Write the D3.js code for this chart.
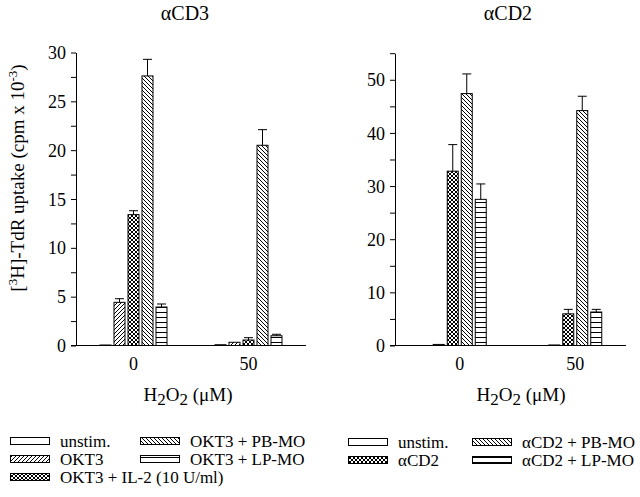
<!DOCTYPE html>
<html>
<head>
<meta charset="utf-8">
<script src="https://cdn.jsdelivr.net/npm/d3@7"></script>
<style>
  html, body { margin: 0; padding: 0; background: #fff; }
  svg text { font-family: "Liberation Serif", "DejaVu Serif", serif; fill: #000; }
</style>
</head>
<body>
<svg id="chart" width="640" height="497"></svg>
<script>
// ---------- data ----------
const groups = ["0", "50"];                 // H2O2 (µM)

const leftSeries = ["unstim.", "OKT3", "OKT3 + IL-2 (10 U/ml)", "OKT3 + PB-MO", "OKT3 + LP-MO"];
const leftPatterns = ["none", "fwd", "cross", "back", "horiz"];
const leftValues = [
  [0.05, 0.08],
  [4.42, 0.33],
  [13.4, 0.56],
  [27.6, 20.5],
  [3.94, 1.0]
];
const leftErrors = [
  [0, 0],
  [0.37, 0],
  [0.4, 0.24],
  [1.7, 1.6],
  [0.31, 0.15]
];

const rightSeries = ["unstim.", "\u03B1CD2", "\u03B1CD2 + PB-MO", "\u03B1CD2 + LP-MO"];
const rightPatterns = ["none", "cross", "back", "horiz"];
const rightValues = [
  [0.2, 0.1],
  [32.8, 5.96],
  [47.4, 44.2],
  [27.5, 6.3]
];
const rightErrors = [
  [0, 0],
  [5.0, 0.84],
  [3.7, 2.7],
  [2.9, 0.5]
];

const leftTicks = [0, 5, 10, 15, 20, 25, 30];
const rightTicks = [0, 10, 20, 30, 40, 50];

// ---------- setup ----------
const svg = d3.select("#chart");
const defs = svg.append("defs");

function addPattern(id, size, paths) {
  const p = defs.append("pattern").attr("id", id)
    .attr("patternUnits", "userSpaceOnUse")
    .attr("width", size).attr("height", size);
  p.append("rect").attr("width", size).attr("height", size).attr("fill", "#fff");
  paths.forEach(d => p.append("path").attr("d", d)
    .attr("stroke", "#000").attr("stroke-width", 1).attr("fill", "none"));
}
addPattern("fwd", 4, ["M-1,1 L1,-1 M0,4 L4,0 M3,5 L5,3"]);
addPattern("back", 4, ["M-1,3 L1,5 M0,0 L4,4 M3,-1 L5,1"]);
addPattern("cross", 4, ["M-1,1 L1,-1 M0,4 L4,0 M3,5 L5,3", "M-1,3 L1,5 M0,0 L4,4 M3,-1 L5,1"]);
addPattern("horiz", 5, ["M0,2.5 L5,2.5"]);
const fillFor = p => p === "none" ? "#fff" : `url(#${p})`;

function drawPanel(cfg) {
  const g = svg.append("g");
  const y = d3.scaleLinear().domain([0, cfg.ymax]).range([cfg.y0, cfg.yTop]);
  const x0 = d3.scaleBand().domain(groups).range(cfg.xRange);
  const n = cfg.series.length;
  const x1 = d3.scaleBand().domain(d3.range(n)).range([0, n * 14])
    .paddingInner(1 / 7).paddingOuter(1 / 14);
  const off = x0.bandwidth() / 2 - n * 7;

  // y axis
  const ticks = d3.range(0, cfg.ymax + 0.001, cfg.minor);
  const ax = d3.axisLeft(y).tickValues(ticks).tickSize(5).tickSizeOuter(0)
    .tickFormat(d => cfg.labels.includes(d) ? d : "");
  const ag = g.append("g").attr("transform", `translate(${cfg.axisX},0)`).call(ax);
  ag.selectAll("text").style("font-size", "18px").attr("x", -10).attr("dy", "0.34em");
  ag.selectAll("path, line").attr("stroke", "#000");

  // x axis baseline
  g.append("line").attr("x1", cfg.axisX - 5).attr("x2", cfg.xEnd)
    .attr("y1", y(0)).attr("y2", y(0)).attr("stroke", "#000");

  // bars
  cfg.series.forEach((s, si) => {
    groups.forEach((grp, gi) => {
      const v = cfg.values[si][gi];
      const e = cfg.errors[si][gi];
      const bx = x0(grp) + off + x1(si);
      const bw = x1.bandwidth();
      g.append("rect")
        .attr("x", bx + 0.5).attr("y", y(v))
        .attr("width", bw - 1).attr("height", Math.max(0.5, y(0) - y(v)))
        .attr("fill", fillFor(cfg.patterns[si]))
        .attr("stroke", "#000").attr("stroke-width", 1);
      if (e > 0) {
        const cx = bx + bw / 2;
        g.append("line").attr("x1", cx).attr("x2", cx)
          .attr("y1", y(v)).attr("y2", y(v + e)).attr("stroke", "#000");
        g.append("line").attr("x1", cx - 4.5).attr("x2", cx + 4.5)
          .attr("y1", y(v + e)).attr("y2", y(v + e)).attr("stroke", "#000");
      }
    });
  });

  // x tick labels
  groups.forEach(grp => {
    g.append("text").attr("x", x0(grp) + x0.bandwidth() / 2).attr("y", 370)
      .attr("text-anchor", "middle").style("font-size", "18px").text(grp);
  });

  // x axis title
  const xt = g.append("text").attr("x", cfg.xTitleX).attr("y", 401)
    .attr("text-anchor", "middle").style("font-size", "19px");
  xt.append("tspan").text("H");
  xt.append("tspan").attr("dy", 4).style("font-size", "17px").text("2");
  xt.append("tspan").attr("dy", -4).text("O");
  xt.append("tspan").attr("dy", 4).style("font-size", "17px").text("2");
  xt.append("tspan").attr("dy", -4).text(" (\u03BCM)");

  // title
  g.append("text").attr("x", cfg.titleX).attr("y", 20)
    .attr("text-anchor", "middle").style("font-size", "20px").text(cfg.title);

  // legend
  cfg.series.forEach((s, si) => {
    const pos = cfg.legendPos[si];
    g.append("rect").attr("x", pos[0] + 0.5).attr("y", pos[1] - 3.5)
      .attr("width", 39).attr("height", 7)
      .attr("fill", fillFor(cfg.patterns[si])).attr("stroke", "#000");
    g.append("text").attr("x", pos[0] + 50).attr("y", pos[1] + 6)
      .style("font-size", "17px").text(s);
  });
}

drawPanel({
  series: leftSeries, patterns: leftPatterns, values: leftValues, errors: leftErrors,
  ymax: 30, minor: 2.5, labels: leftTicks, y0: 345.5, yTop: 52.5,
  axisX: 76, xRange: [76, 306], xEnd: 306, xTitleX: 188, titleX: 185, title: "\u03B1CD3",
  legendPos: [[10, 441], [10, 459], [10, 477], [140, 441], [140, 459]]
});

drawPanel({
  series: rightSeries, patterns: rightPatterns, values: rightValues, errors: rightErrors,
  ymax: 55, minor: 5, labels: rightTicks, y0: 345.5, yTop: 53.2,
  axisX: 395, xRange: [402, 633], xEnd: 626, xTitleX: 521, titleX: 508, title: "\u03B1CD2",
  legendPos: [[348, 442], [348, 460], [472, 442], [472, 460]]
});

// y axis title (left)
const yt = svg.append("text").attr("transform", "translate(24,178) rotate(-90)")
  .attr("text-anchor", "middle").style("font-size", "19px");
yt.append("tspan").text("[");
yt.append("tspan").attr("dy", -7).style("font-size", "13px").text("3");
yt.append("tspan").attr("dy", 7).text("H]-TdR uptake (cpm x 10");
yt.append("tspan").attr("dy", -7).style("font-size", "13px").text("-3");
yt.append("tspan").attr("dy", 7).text(")");
</script>
</body>
</html>
